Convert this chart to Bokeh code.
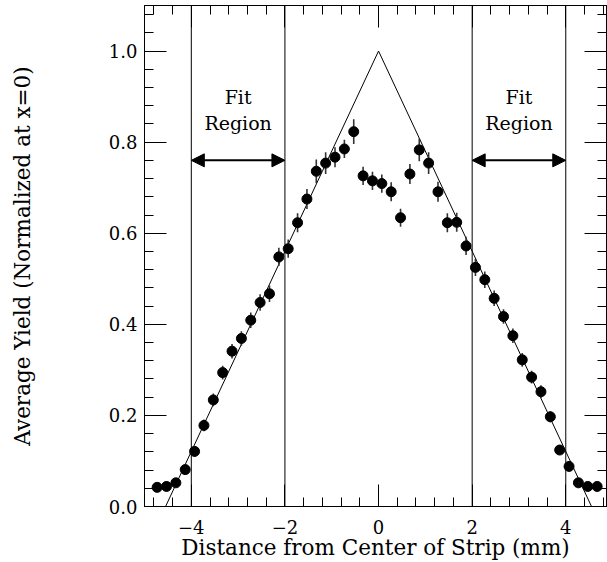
from bokeh.plotting import figure
from bokeh.models import (Range1d, LinearAxis, SingleIntervalTicker, Span, Arrow,
                          NormalHead, PrintfTickFormatter, ColumnDataSource,
                          CustomJSTickFormatter)
from bokeh.core.properties import value
from bokeh.embed import file_html
from bokeh.resources import INLINE

# ---- data ----
pos_mm = [-4.73, -4.53, -4.33, -4.13, -3.93, -3.73, -3.53, -3.33, -3.13, -2.93,
          -2.73, -2.53, -2.33, -2.13, -1.93, -1.73, -1.53, -1.33, -1.13, -0.93,
          -0.73, -0.53, -0.33, -0.13, 0.07, 0.27, 0.47, 0.67, 0.87, 1.07,
          1.27, 1.47, 1.67, 1.87, 2.07, 2.27, 2.47, 2.67, 2.87, 3.07,
          3.27, 3.47, 3.67, 3.87, 4.07, 4.27, 4.47, 4.67]
avg_yield = [0.042, 0.044, 0.052, 0.081, 0.121, 0.178, 0.234, 0.294, 0.341, 0.369,
             0.409, 0.448, 0.467, 0.548, 0.566, 0.623, 0.675, 0.736, 0.754, 0.767,
             0.785, 0.823, 0.726, 0.715, 0.709, 0.691, 0.634, 0.730, 0.783, 0.754,
             0.691, 0.623, 0.624, 0.572, 0.525, 0.498, 0.457, 0.417, 0.375, 0.322,
             0.284, 0.252, 0.197, 0.124, 0.088, 0.052, 0.044, 0.044]
yield_err = [0.008, 0.008, 0.009, 0.010, 0.012, 0.013, 0.014, 0.015, 0.016, 0.016,
             0.017, 0.018, 0.018, 0.020, 0.020, 0.021, 0.022, 0.026, 0.024, 0.022,
             0.020, 0.027, 0.020, 0.020, 0.020, 0.021, 0.020, 0.022, 0.025, 0.024,
             0.022, 0.021, 0.021, 0.020, 0.019, 0.018, 0.017, 0.016, 0.016, 0.015,
             0.014, 0.014, 0.012, 0.010, 0.009, 0.008, 0.008, 0.008]

fit_x = [-4.55, 0.0, 4.55]
fit_y = [0.0, 1.0, 0.0]

region_lines = [-4, -2, 2, 4]
fit_regions = [(-4, -2), (2, 4)]
fit_arrow_y = 0.76
fit_label_x = [-3, 3]
fit_label_y = [0.871, 0.871]
fit_label_text = ["Fit\nRegion", "Fit\nRegion"]

x_tick_labels = {-4: "\u22124", -2: "\u22122", 0: "0", 2: "2", 4: "4"}

FONT = "DejaVu Serif"

p = figure(width=607, height=562, output_backend="svg", toolbar_location=None,
           x_range=Range1d(-5, 4.87), y_range=Range1d(0, 1.1),
           min_border_left=144, min_border_right=1, min_border_top=5,
           min_border_bottom=56,
           x_axis_label="Distance from Center of Strip (mm)",
           y_axis_label="Average Yield (Normalized at x=0)")
p.grid.visible = False
p.outline_line_color = "black"
p.outline_line_width = 1
p.background_fill_color = "white"
p.border_fill_color = "white"


def style_axis(ax, interval, show_labels):
    ax.ticker = SingleIntervalTicker(interval=interval, num_minor_ticks=5)
    ax.major_tick_in = 22
    ax.major_tick_out = 0
    ax.minor_tick_in = 9
    ax.minor_tick_out = 0
    ax.axis_line_color = "black"
    ax.major_tick_line_color = "black"
    ax.minor_tick_line_color = "black"
    ax.major_tick_line_width = 1
    ax.minor_tick_line_width = 1
    ax.major_label_text_font = FONT
    ax.major_label_text_color = "black"
    ax.axis_label_text_font = FONT
    ax.axis_label_text_font_style = "normal"
    ax.axis_label_text_color = "black"
    if show_labels:
        ax.major_label_text_font_size = "18px"
        ax.axis_label_text_font_size = "21.5px"
    else:
        ax.formatter = CustomJSTickFormatter(code="return ''")
        ax.major_label_standoff = 0
        ax.axis_label = None


xb = p.xaxis[0]
yl = p.yaxis[0]
style_axis(xb, 2, True)
style_axis(yl, 0.2, True)
xb.major_label_overrides = x_tick_labels
xb.major_label_standoff = 13
xb.axis_label_standoff = -2
yl.formatter = PrintfTickFormatter(format="%.1f")
yl.major_label_standoff = 7
yl.axis_label_standoff = 71

xt = LinearAxis()
style_axis(xt, 2, False)
p.add_layout(xt, "above")
yr = LinearAxis()
style_axis(yr, 0.2, False)
p.add_layout(yr, "right")

# vertical fit-region boundaries
for loc in region_lines:
    p.add_layout(Span(location=loc, dimension="height", line_color="black",
                      line_width=1))

# triangle fit
p.line(fit_x, fit_y, line_color="black", line_width=1)

# error bars and points
src = ColumnDataSource(dict(
    x=pos_mm, y=avg_yield,
    lo=[v - e for v, e in zip(avg_yield, yield_err)],
    hi=[v + e for v, e in zip(avg_yield, yield_err)],
))
p.segment(x0="x", y0="lo", x1="x", y1="hi", source=src,
          line_color="#333333", line_width=1.6)
p.scatter(x="x", y="y", source=src, marker="circle", size=10,
          fill_color="black", line_color="black")

# Fit region arrows
for xs, xe in fit_regions:
    p.add_layout(Arrow(x_start=xs, x_end=xe, y_start=fit_arrow_y, y_end=fit_arrow_y,
                       line_color="black", line_width=2,
                       start=NormalHead(size=13, fill_color="black", line_color="black"),
                       end=NormalHead(size=13, fill_color="black", line_color="black")))

p.text(x=fit_label_x, y=fit_label_y, text=fit_label_text,
       text_font=value(FONT), text_font_size="19px", text_align="center",
       text_baseline="middle", text_color="black", text_line_height=1.2)

open("out.html", "w").write(file_html(p, INLINE))
